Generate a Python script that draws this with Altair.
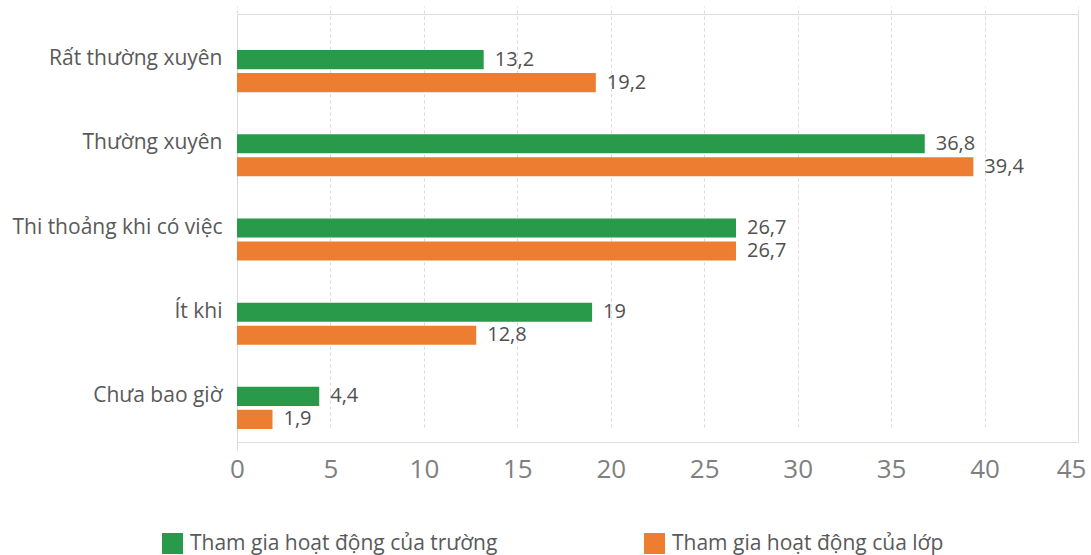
import altair as alt
import pandas as pd

# Survey categories (top to bottom) and the two participation series
categories = ["Rất thường xuyên", "Thường xuyên", "Thi thoảng khi có việc", "Ít khi", "Chưa bao giờ"]
series_names = ["Tham gia hoạt động của trường", "Tham gia hoạt động của lớp"]
school_values = [13.2, 36.8, 26.7, 19, 4.4]
class_values = [19.2, 39.4, 26.7, 12.8, 1.9]
x_ticks = [0, 5, 10, 15, 20, 25, 30, 35, 40, 45]
series_colors = ["#299A4A", "#ED7D31"]

rows = []
for name, values in zip(series_names, [school_values, class_values]):
    for cat, v in zip(categories, values):
        rows.append({"cat": cat, "series": name, "value": v,
                     "label": f"{v:g}".replace(".", ",")})
df = pd.DataFrame(rows)

FONT = "Open Sans"

y_enc = alt.Y("cat:N", sort=categories,
              scale=alt.Scale(range=[15, 436], paddingInner=0.5, paddingOuter=0.25),
              axis=alt.Axis(title=None, domain=True, domainColor="#D9D9D9", domainWidth=1,
                            ticks=False, grid=False, labelFontSize=21, labelColor="#595959",
                            labelFont=FONT, labelPadding=15, labelLimit=400,
                            labelOffset=-12))
# the last tick label is nudged left so it stays inside the canvas
last_label_shift = {"condition": {"test": f"datum.value == {x_ticks[-1]}", "value": -7},
                    "value": 0}
x_enc = alt.X("value:Q",
              scale=alt.Scale(domain=[0, 45], nice=False, zero=True),
              axis=alt.Axis(title=None, values=x_ticks, domain=False, ticks=False,
                            grid=True, gridDash=[3, 3], gridColor="#D9D9D9", gridWidth=1,
                            labelFontSize=26, labelColor="#7F7F7F", labelFont=FONT,
                            labelPadding=14, labelFlush=False,
                            labelOffset=last_label_shift))
yoff = alt.YOffset("series:N", sort=series_names,
                   scale=alt.Scale(paddingInner=0.17, paddingOuter=0))
color = alt.Color("series:N", sort=series_names,
                  scale=alt.Scale(domain=series_names, range=series_colors),
                  legend=alt.Legend(title=None, orient="none", direction="horizontal",
                                    legendX=-75, legendY=519, symbolType="square",
                                    symbolSize=441, symbolStrokeWidth=0,
                                    labelFontSize=21, labelColor="#595959", labelFont=FONT,
                                    labelOffset=7, columnPadding=146, padding=0,
                                    labelLimit=500))

bars = alt.Chart(df).mark_bar().encode(y=y_enc, x=x_enc, yOffset=yoff, color=color)
labels = alt.Chart(df).mark_text(align="left", baseline="middle", dx=11, fontSize=20,
                                 font=FONT, color="#505050").encode(
    y=alt.Y("cat:N", sort=categories), x="value:Q", yOffset=yoff, text="label:N")

chart = (bars + labels).properties(
    width=841, height=428,
    autosize=alt.AutoSizeParams(type="none"),
    padding={"left": 237, "top": 14, "right": 13, "bottom": 113},
).configure_view(stroke=None).configure(background="white")

chart.save("out.html", embed_options={"renderer": "svg", "actions": False})
